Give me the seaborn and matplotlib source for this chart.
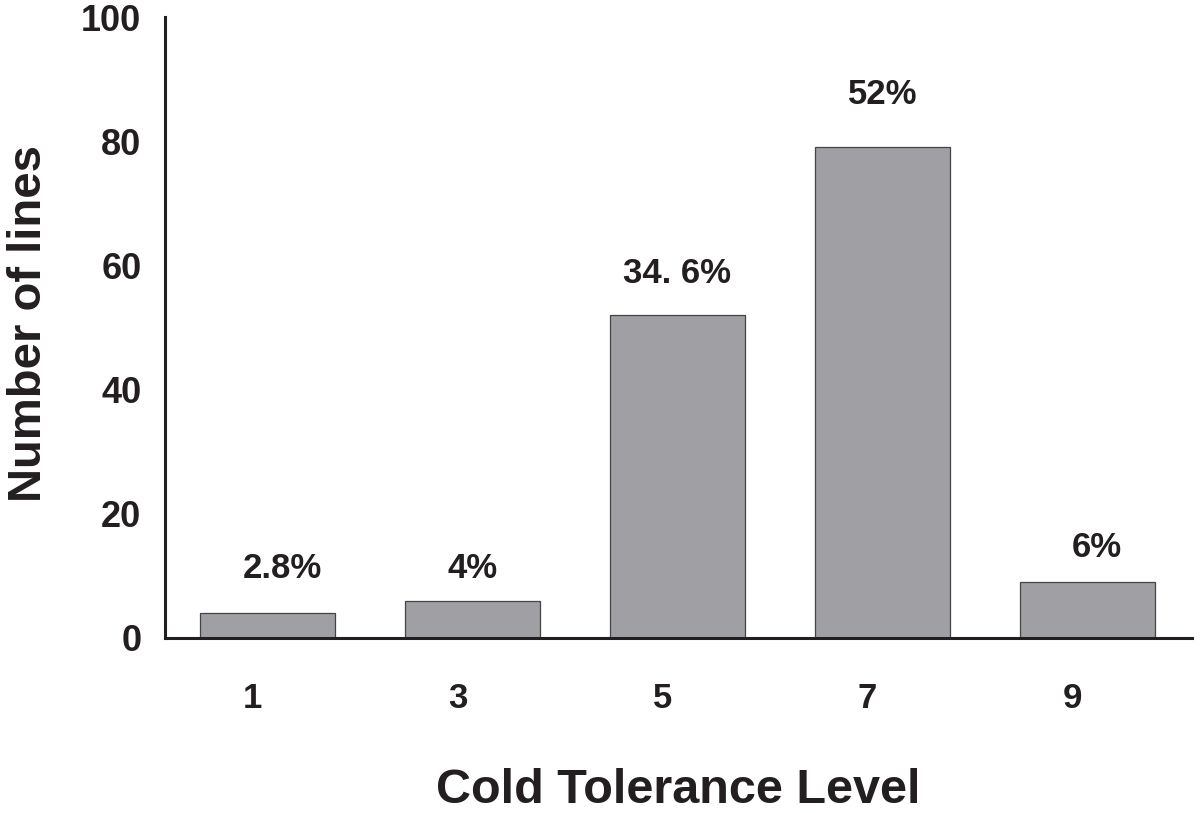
import matplotlib
matplotlib.use('Agg')
import matplotlib.pyplot as plt
import matplotlib.transforms as mtransforms
import numpy as np
import pandas as pd
import seaborn as sns

# 数据
levels = ['1', '3', '5', '7', '9']
counts = [4, 6, 52, 79, 9]
pct_labels = ['2.8%', '4%', '34. 6%', '52%', '6%']

# 标注偏移（点）
label_dy = [20, 11, 18, 26, 13]
label_dx = [11, 0, 0, 0, 7]

sns.set_style('white')
plt.rcParams['font.family'] = ['Liberation Sans', 'DejaVu Sans']
plt.rcParams['font.weight'] = 'bold'
txt_color = '#231f20'

df = pd.DataFrame({'level': levels, 'count': counts})

fig = plt.figure(figsize=(12, 8.13), dpi=100)
ax = fig.add_axes([0.1375, 0.2153, 0.8558, 0.7637])

sns.barplot(data=df, x='level', y='count', order=levels, color='#a0a0a4',
            saturation=1, width=0.66, edgecolor='#444444', linewidth=0.9, ax=ax)

ax.set_ylim(0, 100)
ax.set_xlim(-0.5, 4.51)
ax.set_yticks(np.arange(0, 101, 20))

for i, (c, lab) in enumerate(zip(counts, pct_labels)):
    ax.annotate(lab, (i, c), xytext=(label_dx[i], label_dy[i]),
                textcoords='offset points', ha='center', va='bottom',
                fontsize=25, fontweight='bold', color=txt_color)

# 坐标轴样式
for s in ['top', 'right']:
    ax.spines[s].set_visible(False)
for s in ['left', 'bottom']:
    ax.spines[s].set_linewidth(2.2)
    ax.spines[s].set_color(txt_color)

ax.tick_params(axis='y', direction='in', length=8, width=2.2, color=txt_color,
               labelsize=26, pad=17, labelcolor=txt_color)
ax.tick_params(axis='x', length=0, labelsize=25, pad=32, labelcolor=txt_color)
for t in ax.get_xticklabels():
    t.set_transform(t.get_transform() + mtransforms.ScaledTranslation(-15 / 100, 0, fig.dpi_scale_trans))
for t in ax.get_xticklabels() + ax.get_yticklabels():
    t.set_fontweight('bold')

ax.set_xlabel('Cold Tolerance Level', fontsize=35, fontweight='bold',
              color=txt_color, va='center', ha='center')
ax.xaxis.set_label_coords(0.5, -0.245)
ax.set_ylabel('Number of lines', fontsize=34, fontweight='bold',
              color=txt_color, va='center', ha='center')
ax.yaxis.set_label_coords(-0.132, 0.507)

fig.savefig('out.png', dpi=100, facecolor='white')
plt.close(fig)
